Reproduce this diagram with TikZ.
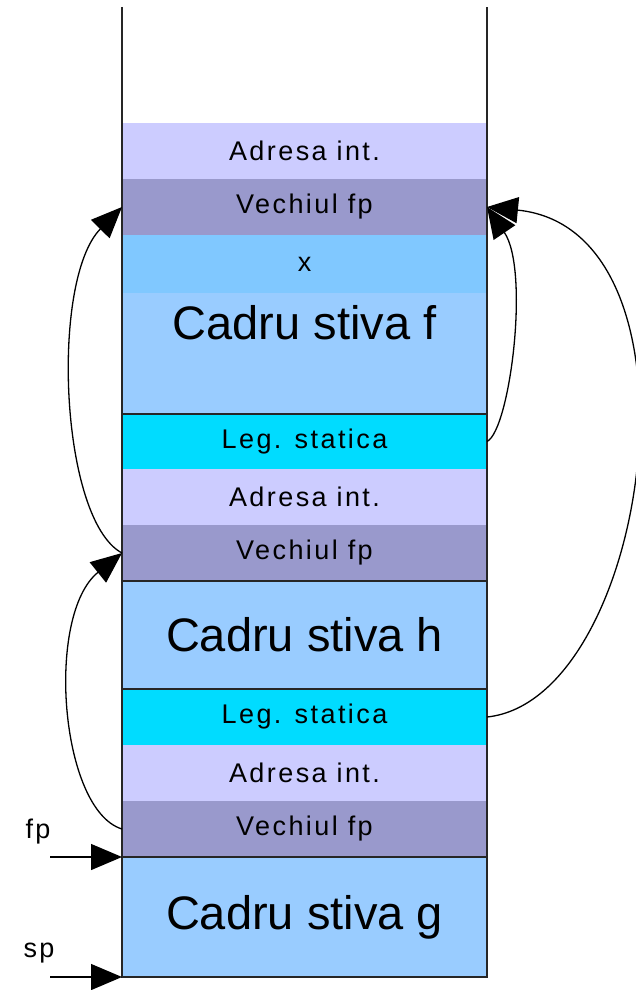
\documentclass[tikz,border=0pt]{standalone}
\usepackage{fontspec}
\setmainfont{Liberation Sans}
\newfontfamily\labelfont[LetterSpace=9]{Liberation Sans}
\usetikzlibrary{arrows.meta}

\definecolor{retcol}{HTML}{CCCCFF}
\definecolor{oldfpcol}{HTML}{9999CC}
\definecolor{localcol}{HTML}{80C8FF}
\definecolor{framecol}{HTML}{99CCFF}
\definecolor{linkcol}{HTML}{00DCFF}

\begin{document}
\begin{tikzpicture}[x=1pt,y=-1pt,
  band/.style={anchor=north west, minimum width=365pt, inner sep=0pt, outer sep=0pt, draw=none},
  small/.style={font=\labelfont\fontsize{27}{30}\selectfont},
  big/.style={font=\fontsize{47}{52}\selectfont},
  wall/.style={line width=2pt, draw=black!85},
  sep/.style={line width=1.6pt, draw=black!85},
  link/.style={line width=1.3pt, -{Triangle[length=31pt,width=26pt]}},
]
\useasboundingbox (0,0) rectangle (635,990);

% stack frame of f
\node[band, fill=retcol,   minimum height=56pt,  small] (af)  at (122,123) {Adresa int.};
\node[band, fill=oldfpcol, minimum height=56pt,  small] (vf1) at (122,179) {Vechiul fp};
\node[band, fill=localcol, minimum height=58pt,  small] (xb)  at (122,235) {x};
\node[band, fill=framecol, minimum height=121pt]        (cf)  at (122,293) {};
\node[big] (cftext) at (304.5,323) {Cadru stiva f};

% stack frame of h
\node[band, fill=linkcol,  minimum height=55pt,  small] (ls1) at (122,414) {Leg. statica};
\node[band, fill=retcol,   minimum height=56pt,  small] (ah)  at (122,469) {Adresa int.};
\node[band, fill=oldfpcol, minimum height=56pt,  small] (vf2) at (122,525) {Vechiul fp};
\node[band, fill=framecol, minimum height=108pt, big]   (ch)  at (122,581) {Cadru stiva h};

% stack frame of g
\node[band, fill=linkcol,  minimum height=56pt,  small] (ls2) at (122,689) {Leg. statica};
\node[band, fill=retcol,   minimum height=56pt,  small] (ag)  at (122,745) {Adresa int.};
\node[band, fill=oldfpcol, minimum height=56pt,  small] (vf3) at (122,801) {Vechiul fp};
\node[band, fill=framecol, minimum height=120pt, big]   (cg)  at (122,857) {Cadru stiva g};

% stack walls and frame separators
\coordinate (topl) at (122,7);
\coordinate (topr) at (487,7);
\draw[wall] (topl) -- (cg.south west) -- (cg.south east) -- (topr);
\draw[sep] (cf.south west) -- (cf.south east);
\draw[sep] (vf2.south west) -- (vf2.south east);
\draw[sep] (ch.south west) -- (ch.south east);
\draw[sep] (vf3.south west) -- (vf3.south east);

% dynamic links (old fp)
\draw[link] (vf2.west) .. controls (60,520) and (50,280) .. (vf1.west);
\draw[link] (vf3.west) .. controls (60,810) and (45,615) .. (vf2.west);

% static links
\draw[link] (ls1.east) .. controls (510,430) and (530,270) .. (vf1.east);
\draw[link] (ls2.east) .. controls (650,700) and (715,230) .. (vf1.east);

% registers
\node[small, anchor=base] (fplbl) at (38,838) {fp};
\node[small, anchor=base] (splbl) at (39,957) {sp};
\coordinate (fpstart) at (50,857);
\coordinate (spstart) at (50,977);
\draw[link] (fpstart) -- (cg.north west);
\draw[link] (spstart) -- (cg.south west);
\end{tikzpicture}
\end{document}
